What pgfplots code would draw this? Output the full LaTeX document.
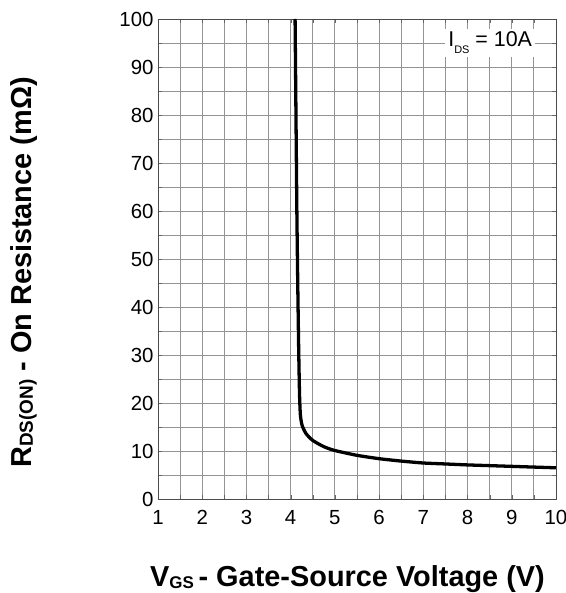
\documentclass[border=0pt]{standalone}
\usepackage{pgfplots}
\pgfplotsset{compat=1.18}
\usepackage{fontspec}
\setmainfont{Liberation Sans}
\begin{document}
\begin{tikzpicture}
\useasboundingbox (-158bp,-94bp) rectangle (408bp,499bp);
\begin{axis}[
  scale only axis,
  width=398bp, height=480bp,
  at={(0,0)}, anchor=south west,
  xmin=1, xmax=10, ymin=0, ymax=100,
  xtick={1,2,...,10}, ytick={0,10,...,100},
  minor xtick={1.5,2.5,...,9.5}, minor ytick={5,15,...,95},
  grid=both,
  major grid style={draw=black!42, line width=0.85pt},
  minor grid style={draw=black!42, line width=0.85pt},
  axis line style={draw=black!70, line width=0.9pt},
  tick style={draw=black!60},
  tick align=inside,
  major tick length=4bp, minor tick length=4bp,
  /pgf/number format/assume math mode=true,
  ticklabel style={font=\fontsize{20.5}{24}\selectfont},
  xticklabel style={yshift=-8bp},
  yticklabel style={xshift=-1bp},
  xlabel={\fontsize{29}{34}\selectfont\bfseries V\raisebox{-0.12ex}{\fontsize{17}{18}\selectfont GS}\,- Gate-Source Voltage (V)},
  ylabel={\fontsize{29}{34}\selectfont\bfseries R\raisebox{-0.1ex}{\fontsize{19}{20}\selectfont DS(ON)} - On Resistance (mΩ)},
  xlabel style={at={(axis description cs:0.476,-0.183)}, anchor=base},
  ylabel style={at={(axis description cs:-0.337,0.472)}, anchor=center},
]
\addplot[black, line width=3.3pt, smooth, tension=0.4] coordinates {
(4.10,100) (4.12,80) (4.14,60) (4.16,45) (4.18,32) (4.20,22) (4.22,17.5)
(4.26,15.3) (4.35,13.6) (4.5,12.2) (4.75,10.9) (5,10.1) (5.5,9.1)
(6,8.4) (6.5,7.9) (7,7.5) (7.5,7.3) (8,7.1) (8.5,6.95) (9,6.8) (9.5,6.65) (10,6.5)
};
\node[fill=white, inner sep=3bp, anchor=base east, font=\fontsize{21.5}{25}\selectfont]
  at (axis cs:9.53,94.2) {I\raisebox{-0.6ex}{\fontsize{11}{12}\selectfont DS} = 10A};
\end{axis}
\end{tikzpicture}
\end{document}
